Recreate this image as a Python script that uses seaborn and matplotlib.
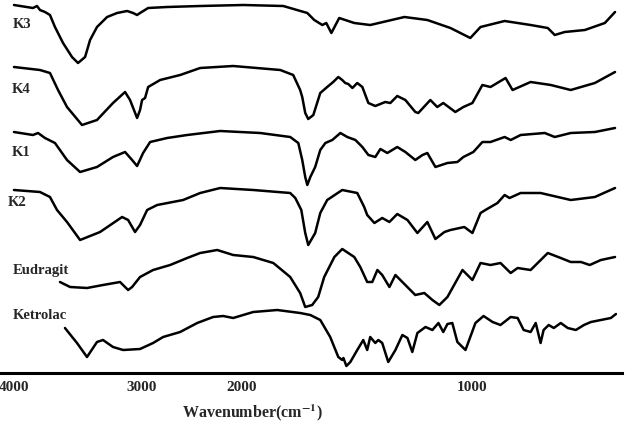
import matplotlib
matplotlib.use("Agg")
import matplotlib.pyplot as plt
import seaborn as sns
import pandas as pd
import numpy as np

# FTIR spectra, wavenumber (cm-1) and relative transmittance (a.u.)
k3_wn = [4000, 3852, 3820, 3797, 3758, 3719, 3680, 3617, 3547, 3500, 3445, 3406, 3352, 3273, 3195, 3117,
         3070, 3039, 3016, 2939, 2747, 2414, 1991, 1818, 1714, 1684, 1649, 1632, 1610, 1576, 1511, 1442,
         1294, 1195, 1095, 1009, 965, 861, 749, 675, 645, 602, 515, 429, 385]
k3_t = [68, 65, 67, 63, 61, 58, 46, 30, 16, 10, 16, 33, 46, 56, 60, 62,
        60, 58, 60, 65, 66, 67, 68, 67, 60, 53, 48, 50, 40, 55, 50, 48,
        56, 53, 45, 35, 46, 52, 48, 45, 38, 41, 43, 50, 61]

k4_wn = [4000, 3797, 3719, 3656, 3586, 3469, 3352, 3227, 3133, 3094, 3039, 3016, 3000, 2970, 2939, 2818,
         2616, 2414, 2081, 1831, 1775, 1745, 1736, 1723, 1710, 1688, 1658, 1628, 1602, 1580, 1563, 1550,
         1537, 1519, 1498, 1476, 1450, 1420, 1377, 1355, 1325, 1290, 1247, 1234, 1182, 1152, 1126, 1074,
         1039, 1000, 957, 922, 857, 827, 749, 662, 576, 472, 385]
k4_t = [66, 63, 60, 43, 26, 8, 13, 30, 41, 33, 15, 23, 33, 35, 46, 53,
        58, 65, 67, 63, 58, 43, 36, 20, 14, 18, 40, 46, 51, 56, 53, 50,
        49, 45, 50, 46, 30, 27, 31, 30, 37, 33, 21, 20, 33, 26, 30, 21,
        26, 30, 48, 46, 55, 43, 51, 48, 43, 50, 61]

k1_wn = [4000, 3852, 3812, 3758, 3680, 3586, 3484, 3352, 3227, 3133, 3078, 3039, 2990, 2919, 2747, 2545,
         2212, 1918, 1788, 1753, 1736, 1723, 1714, 1701, 1680, 1658, 1636, 1606, 1571, 1541, 1506, 1476,
         1450, 1420, 1398, 1368, 1325, 1290, 1247, 1216, 1195, 1160, 1108, 1065, 1039, 996, 957, 922,
         861, 835, 792, 688, 645, 576, 472, 385]
k1_t = [51, 48, 50, 45, 40, 23, 11, 16, 26, 31, 23, 17, 30, 41, 45, 48,
        52, 50, 46, 40, 23, 6, -2, 6, 16, 33, 40, 43, 50, 46, 43, 36,
        28, 26, 34, 30, 36, 31, 23, 28, 30, 16, 20, 21, 26, 31, 41, 41,
        46, 43, 48, 50, 46, 50, 51, 55]

k2_wn = [4000, 3797, 3719, 3664, 3586, 3484, 3328, 3156, 3109, 3055, 3016, 2949, 2848, 2586, 2414, 2212,
         1948, 1788, 1766, 1740, 1723, 1710, 1680, 1658, 1628, 1563, 1498, 1468, 1455, 1424, 1390, 1359,
         1325, 1281, 1238, 1195, 1160, 1121, 1095, 1035, 1000, 965, 944, 892, 861, 840, 792, 706, 576,
         472, 385]
k2_t = [53, 51, 46, 33, 21, 3, 11, 26, 23, 11, 18, 33, 38, 43, 50, 55,
        53, 50, 45, 33, 10, -2, 10, 30, 43, 53, 50, 36, 28, 20, 25, 21,
        29, 23, 10, 21, 4, 11, 13, 16, 10, 30, 33, 40, 48, 45, 50, 50, 43,
        46, 55]

eud_wn = [3641, 3562, 3430, 3305, 3172, 3109, 3078, 3016, 2889, 2717, 2545, 2414, 2242, 2081, 1948, 1861,
          1788, 1745, 1723, 1693, 1667, 1641, 1597, 1563, 1511, 1485, 1455, 1433, 1411, 1390, 1359, 1333,
          1290, 1247, 1208, 1173, 1143, 1108, 1043, 1000, 965, 922, 879, 835, 805, 749, 675, 619, 576,
          532, 494, 446, 385]
eud_t = [21, 16, 15, 18, 21, 13, 16, 26, 33, 38, 45, 50, 53, 48, 46, 40,
         26, 10, -4, -2, 6, 26, 46, 54, 46, 36, 21, 21, 33, 28, 16, 28,
         18, 8, 10, 3, -2, 6, 33, 23, 40, 38, 40, 30, 35, 33, 50, 45, 41,
         41, 38, 43, 46]

ket_wn = [3602, 3508, 3430, 3352, 3305, 3227, 3148, 3016, 2889, 2788, 2616, 2444, 2283, 2182, 2081, 1948,
          1844, 1745, 1701, 1658, 1615, 1580, 1563, 1558, 1545, 1528, 1498, 1472, 1455, 1442, 1420, 1407,
          1390, 1364, 1333, 1303, 1281, 1260, 1238, 1203, 1173, 1147, 1126, 1108, 1087, 1065, 1030, 987,
          952, 913, 879, 835, 805, 779, 749, 727, 706, 693, 671, 649, 619, 589, 554, 519,
          489, 446, 403, 381]
ket_t = [45, 30, 16, 31, 33, 26, 23, 24, 30, 36, 41, 50, 56, 57, 55, 61,
         63, 60, 58, 53, 36, 16, 13, 15, 7, 11, 23, 33, 23, 36, 30, 33,
         30, 11, 23, 38, 35, 21, 40, 46, 43, 50, 41, 49, 50, 31, 23, 50,
         57, 51, 48, 56, 55, 43, 41, 50, 30, 43, 48, 45, 50, 45, 43, 48,
         51, 53, 55, 59]

samples = ["K3", "K4", "K1", "K2", "Eudragit", "Ketrolac"]
offsets = [300, 240, 190, 130, 70, 0]
spectra = [(k3_wn, k3_t), (k4_wn, k4_t), (k1_wn, k1_t), (k2_wn, k2_t), (eud_wn, eud_t), (ket_wn, ket_t)]

frames = []
for name, off, (wn, t) in zip(samples, offsets, spectra):
    frames.append(pd.DataFrame({"wavenumber": wn, "value": np.array(t) + off, "sample": name}))
df = pd.concat(frames, ignore_index=True)

# piecewise axis: region below 2000 cm-1 is expanded, as on the instrument printout
brk_wn = np.array([300.0, 400, 1000, 2000, 3000, 4000, 4500])
brk_pos = np.array([634.2, 611, 472, 241, 142, 14, -50])


def fwd(w):
    return np.interp(w, brk_wn, brk_pos)


def inv(p):
    return np.interp(p, brk_pos[::-1], brk_wn[::-1])


sns.set_style("white")
plt.rcParams['font.family'] = ['Liberation Serif', 'DejaVu Serif']
plt.rcParams['mathtext.fontset'] = 'stix'

fig = plt.figure(figsize=(6.37, 4.36), dpi=100)
ax = fig.add_axes([0, 63 / 436, 622 / 637, 373 / 436])

sns.lineplot(data=df, x="wavenumber", y="value", hue="sample", units="sample", estimator=None,
             palette={s: "black" for s in samples}, linewidth=1.8, legend=False, ax=ax)

ax.set_xscale('function', functions=(fwd, inv))
ax.set_xlim(355, 4109)
ax.set_ylim(0, 373)
ax.set_xticks([4000, 3000, 2000, 1000])
ax.set_xticklabels(["4000", "3000", "2000", "1000"], fontweight="bold", fontsize=11)
ax.set_yticks([])
ax.tick_params(axis='x', length=0, pad=6)
ax.minorticks_off()

sns.despine(ax=ax, left=True)
ax.spines['bottom'].set_linewidth(2.2)
ax.spines['bottom'].set_color('black')

ax.set_ylabel('')
ax.set_xlabel(r'Wavenumber(cm$^{\mathbf{-1}}$)', fontweight="bold", fontsize=11.5)
ax.xaxis.set_label_coords(252 / 622, -0.107)
ax.xaxis.label.set_va('center')

label_pos = [(0.021, 0.933), (0.019, 0.759), (0.019, 0.592), (0.013, 0.456), (0.021, 0.276), (0.021, 0.155)]
for name, (lx, ly) in zip(samples, label_pos):
    ax.text(lx, ly, name, transform=ax.transAxes, fontweight="bold", fontsize=10.5, va="center", ha="left")

plt.savefig('out.png', dpi=100)
